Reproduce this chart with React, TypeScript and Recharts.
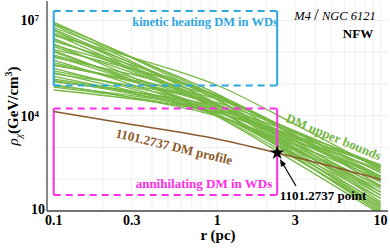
import { ComposedChart, Line, XAxis, YAxis, ReferenceLine, Scatter } from "recharts";

// radii (pc) where the upper-bound curves were read
const boundRadii = [0.1, 0.3, 1, 3, 10];
// log10 of rho (GeV/cm^3) at boundRadii, one row per curve
const boundLogRho: number[][] = [
  [6.95, 5.82, 4.5, 3.0, 1.3],
  [6.9, 5.85, 4.6, 3.2, 1.6],
  [6.86, 5.71, 4.36, 2.81, 1.05],
  [6.78, 5.83, 4.69, 3.34, 1.8],
  [6.73, 5.65, 4.37, 2.89, 1.2],
  [6.69, 5.56, 4.22, 2.69, 0.95],
  [6.61, 5.66, 4.51, 3.11, 1.5],
  [6.57, 5.48, 4.19, 2.7, 1.0],
  [6.52, 5.84, 4.96, 3.73, 2.3],
  [6.44, 5.42, 4.2, 2.77, 1.15],
  [6.4, 5.48, 4.35, 2.98, 1.4],
  [6.35, 5.59, 4.63, 3.36, 1.9],
  [6.26, 5.22, 3.98, 2.54, 0.9],
  [6.22, 5.51, 4.61, 3.4, 2.0],
  [6.18, 5.36, 4.34, 3.07, 1.6],
  [6.09, 5.47, 4.65, 3.47, 2.1],
  [6.05, 5.12, 4.0, 2.65, 1.1],
  [6.01, 5.13, 4.05, 2.75, 1.25],
  [5.92, 5.21, 4.32, 3.13, 1.75],
  [5.88, 5.11, 4.14, 2.92, 1.5],
  [5.84, 5.3, 4.57, 3.48, 2.2],
  [5.75, 4.98, 4.03, 2.81, 1.4],
  [5.67, 5.08, 4.31, 3.22, 1.95],
  [5.62, 5.08, 4.36, 3.32, 2.1],
  [5.58, 5.14, 4.52, 3.52, 2.35],
  [5.49, 4.85, 4.03, 2.9, 1.6],
  [5.41, 4.91, 4.23, 3.23, 2.05],
  [5.36, 4.78, 4.01, 2.95, 1.7],
  [5.32, 4.95, 4.41, 3.49, 2.4],
  [5.24, 4.72, 4.02, 3.0, 1.8],
  [5.15, 4.76, 4.2, 3.31, 2.25],
  [5.11, 4.69, 4.11, 3.19, 2.1],
  [5.07, 4.76, 4.28, 3.45, 2.45],
  [4.98, 4.57, 3.99, 3.08, 2.0],
  [4.94, 4.63, 4.17, 3.36, 2.4],
  [4.9, 4.58, 4.1, 3.28, 2.3],
  [4.81, 4.53, 4.1, 3.35, 2.45],
];

// 1101.2737 DM profile
const profileRadii = [0.1, 0.3, 1, 2.33, 5, 10];
const profileRho = [13500, 5300, 1850, 675, 257, 98];

// 1101.2737 point
const pointData = [{ r: 2.33, rho: 680 }];

const xTicks = [0.1, 0.3, 1, 3, 10];
const yTicks = [10, 1e4, 1e7];
const xGrid = [0.2, 0.3, 0.4, 0.5, 0.6, 0.7, 0.8, 0.9, 1, 2, 3, 4, 5, 6, 7, 8, 9, 10];
const yGrid = [100, 1000, 1e4, 1e5, 1e6, 1e7];

// regions (r in pc, rho in GeV/cm^3)
const kineticBox = { r0: 0.1, r1: 2.33, lo: 9e4, hi: 2e7 };
const annihBox = { r0: 0.1, r1: 2.33, lo: 32, hi: 1.7e4 };

const GREEN = "#76b843";
const BROWN = "#8b5a2b";
const BLUE = "#2ea7e0";
const MAGENTA = "#ff2ee8";
const FONT = "'Liberation Serif', 'Times New Roman', serif";

const boundSeries = boundLogRho.map((row) =>
  row.map((e, i) => ({ r: boundRadii[i], rho: Math.pow(10, e) }))
);
const profileSeries = profileRadii.map((r, i) => ({ r, rho: profileRho[i] }));

const XTick = (props: any) => {
  const { x, y, payload } = props;
  return (
    <text x={x} y={y} dy="0.71em" textAnchor="middle" fontFamily={FONT} fontWeight="bold" fontSize={14} fill="#000">
      {payload.value}
    </text>
  );
};

const YTick = (props: any) => {
  const { x, y, payload } = props;
  const exp = Math.round(Math.log10(payload.value));
  if (exp === 1) {
    return (
      <text x={x} y={y} dy="0.2em" textAnchor="end" fontFamily={FONT} fontWeight="bold" fontSize={14} fill="#000">
        10
      </text>
    );
  }
  return (
    <text x={x - 6} y={y} dy="0.35em" textAnchor="end" fontFamily={FONT} fontWeight="bold" fontSize={14} fill="#000">
      10
      <tspan dy="-0.45em" fontSize={9}>{exp}</tspan>
    </text>
  );
};

const boxEdges = (b: { r0: number; r1: number; lo: number; hi: number }, color: string, key: string) => [
  <ReferenceLine key={key + "t"} segment={[{ x: b.r0, y: b.hi }, { x: b.r1, y: b.hi }]} stroke={color} strokeWidth={2} strokeDasharray="7 5" ifOverflow="visible" />,
  <ReferenceLine key={key + "b"} segment={[{ x: b.r0, y: b.lo }, { x: b.r1, y: b.lo }]} stroke={color} strokeWidth={2} strokeDasharray="7 5" ifOverflow="visible" />,
  <ReferenceLine key={key + "l"} segment={[{ x: b.r0, y: b.lo }, { x: b.r0, y: b.hi }]} stroke={color} strokeWidth={2} ifOverflow="visible" />,
  <ReferenceLine key={key + "r"} segment={[{ x: b.r1, y: b.lo }, { x: b.r1, y: b.hi }]} stroke={color} strokeWidth={2} ifOverflow="visible" />,
];

export default function App() {
  return (
    <div style={{ position: "absolute", left: 0, top: 0, width: 390, height: 248, background: "#fff" }}>
      <ComposedChart width={390} height={248} margin={{ top: 1, right: 2, bottom: 0, left: 0 }}>
        <XAxis
          type="number"
          dataKey="r"
          scale="log"
          domain={[0.091, 11.1]}
          allowDataOverflow
          ticks={xTicks}
          tick={<XTick />}
          tickSize={0}
          tickMargin={4}
          height={37}
          stroke="#444"
          strokeWidth={1.3}
        />
        <YAxis
          type="number"
          dataKey="rho"
          scale="log"
          domain={[10, 4.1e7]}
          allowDataOverflow
          ticks={yTicks}
          tick={<YTick />}
          tickSize={0}
          tickMargin={2}
          width={47}
          stroke="#444"
          strokeWidth={1.3}
        />
        <XAxis xAxisId="top" orientation="top" type="number" scale="log" domain={[0.091, 11.1]} height={0} tick={false} stroke="#444" />
        <YAxis yAxisId="right" orientation="right" type="number" scale="log" domain={[10, 4.1e7]} width={0} tick={false} stroke="#444" />
        {xGrid.map((v) => (
          <ReferenceLine key={"gx" + v} x={v} stroke="#efefef" strokeWidth={1} />
        ))}
        {yGrid.map((v) => (
          <ReferenceLine key={"gy" + v} y={v} stroke="#efefef" strokeWidth={1} />
        ))}
        {boundSeries.map((d, i) => (
          <Line
            key={"b" + i}
            data={d}
            dataKey="rho"
            type="monotone"
            stroke={GREEN}
            strokeWidth={1.3}
            dot={false}
            isAnimationActive={false}
          />
        ))}
        {boxEdges(kineticBox, BLUE, "k")}
        {boxEdges(annihBox, MAGENTA, "a")}
        <Line data={profileSeries} dataKey="rho" type="monotone" stroke={BROWN} strokeWidth={1.5} dot={false} isAnimationActive={false} />
        <Scatter data={pointData} dataKey="rho" fill="#000" shape="star" isAnimationActive={false} />
      </ComposedChart>
      <svg width={390} height={248} style={{ position: "absolute", left: 0, top: 0, pointerEvents: "none" }} fontFamily={FONT}>
        <text x={13} y={106} transform="rotate(-90 13 106)" textAnchor="middle" dy="0.35em" fontSize={15} fontWeight="bold">
          <tspan fontStyle="italic" fontWeight="normal">ρ</tspan>
          <tspan fontStyle="italic" fontWeight="normal" fontSize={10} dy="4">χ</tspan>
          <tspan dy="-4">(GeV/cm</tspan>
          <tspan fontSize={10} dy="-6">3</tspan>
          <tspan dy="6">)</tspan>
        </text>
        <text x={218} y={240} textAnchor="middle" fontSize={15} fontWeight="bold">r (pc)</text>
        <text x={205} y={26} textAnchor="middle" fontSize={12.5} fontWeight="bold" fill={BLUE}>kinetic heating DM in WDs</text>
        <text x={204} y={188} textAnchor="middle" fontSize={13} fontWeight="bold" fill={MAGENTA}>annihilating DM in WDs</text>
        <text x={335} y={20} textAnchor="middle" fontSize={12.5} fontStyle="italic">
          M4 <tspan fontStyle="normal" fontSize={17}>/</tspan> NGC 6121
        </text>
        <text x={358} y={38} textAnchor="middle" fontSize={13} fontWeight="bold">NFW</text>
        <text x={173} y={151} textAnchor="middle" fontSize={13} fontWeight="bold" fill={BROWN} transform="rotate(13.3 173 151)">
          1101.2737 DM profile
        </text>
        <text x={332} y={141} textAnchor="middle" fontSize={13} fontWeight="bold" fill={GREEN} transform="rotate(22.5 332 141)">
          DM upper bounds
        </text>
        <text x={323} y={200} textAnchor="middle" fontSize={13} fontWeight="bold">1101.2737 point</text>
        <line x1={296} y1={186} x2={283} y2={164} stroke="#000" strokeWidth={1.2} />
        <polygon points="280,159 281,167 286,164" fill="#000" />
      </svg>
    </div>
  );
}
